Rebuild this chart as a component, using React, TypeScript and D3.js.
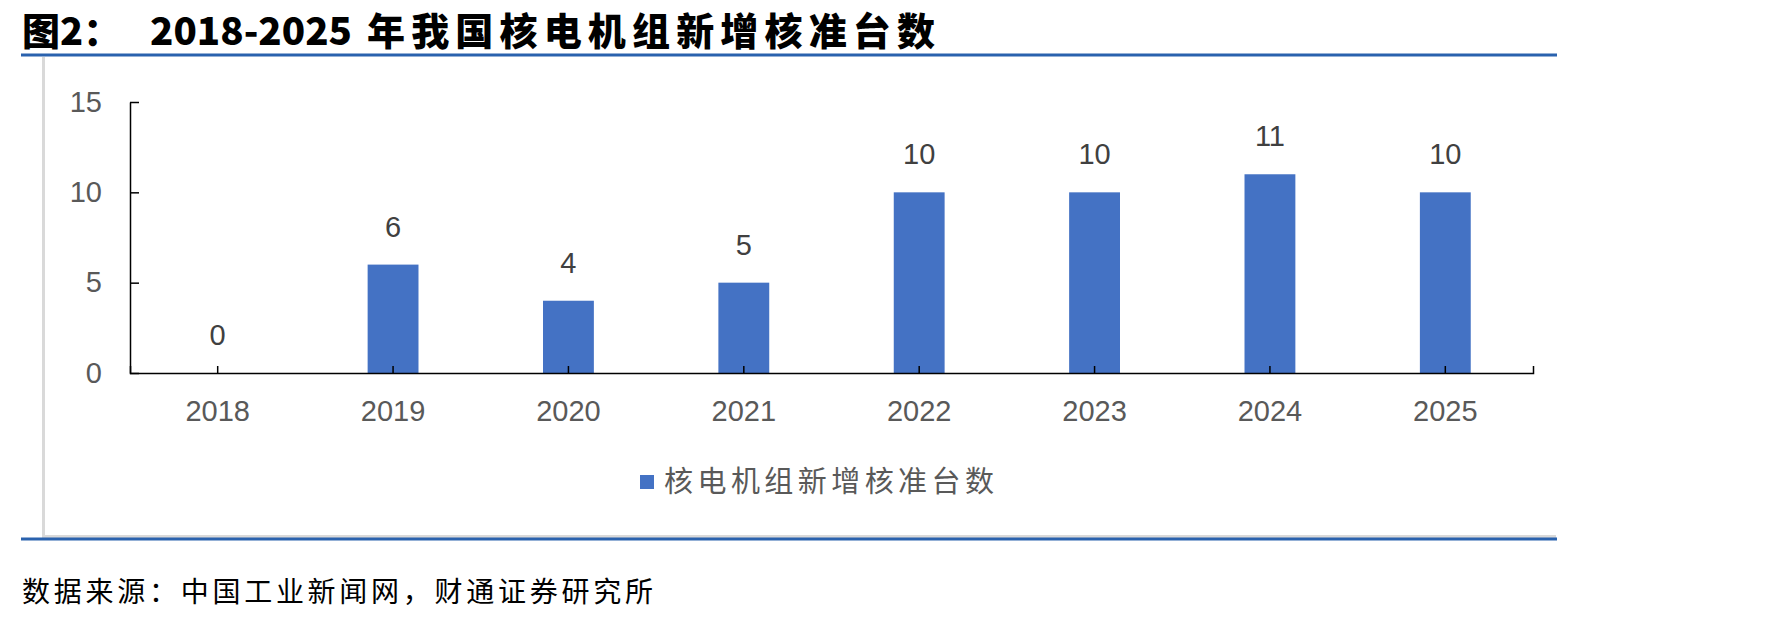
import { useEffect, useRef } from 'react'
import * as d3 from 'd3'

const years = ['2018', '2019', '2020', '2021', '2022', '2023', '2024', '2025']
const approvals = [0, 6, 4, 5, 10, 10, 11, 10]
const yTicks = [0, 5, 10, 15]
const seriesName = '核电机组新增核准台数'

const W = 1771
const H = 624
const numFont = '"Liberation Sans", Arial, sans-serif'
const cjkFont = '"Noto Sans CJK SC", sans-serif'

export default function App() {
  const ref = useRef<SVGSVGElement | null>(null)

  useEffect(() => {
    if (!ref.current) return
    const svg = d3.select(ref.current)
    svg.selectAll('*').remove()

    const plot = { left: 130, right: 1533, top: 102, bottom: 373 }

    const x = d3
      .scaleBand<string>()
      .domain(years)
      .range([plot.left, plot.right])
      .paddingInner(0.71)
      .paddingOuter(0.355)

    const xTick = d3.scaleBand<string>().domain(years).range([plot.left, plot.right])

    const y = d3.scaleLinear().domain([0, 15]).range([plot.bottom, plot.top])

    // frame
    svg.append('line')
      .attr('x1', 21).attr('x2', 1557).attr('y1', 55).attr('y2', 55)
      .attr('stroke', '#2a62ae').attr('stroke-width', 3)
    svg.append('path')
      .attr('d', 'M43.5,57V536.5H1556')
      .attr('fill', 'none').attr('stroke', '#d9d9d9').attr('stroke-width', 3)
    svg.append('line')
      .attr('x1', 21).attr('x2', 1557).attr('y1', 539).attr('y2', 539)
      .attr('stroke', '#2a62ae').attr('stroke-width', 3)

    // title
    const title = svg.append('g')
      .attr('font-family', cjkFont).attr('font-weight', 900).attr('font-size', 38)
      .attr('fill', '#000')
    title.append('text').attr('x', 22).attr('y', 45).text('图2：')
    title.append('text')
      .attr('x', 150).attr('y', 45)
      .attr('textLength', 202).attr('lengthAdjust', 'spacingAndGlyphs')
      .text('2018-2025')
    title.append('text')
      .attr('x', 367).attr('y', 45)
      .attr('textLength', 568).attr('lengthAdjust', 'spacing')
      .text('年我国核电机组新增核准台数')

    // bars
    svg.selectAll('.bar')
      .data(approvals)
      .enter()
      .append('rect')
      .attr('class', 'bar')
      .attr('x', (_, i) => x(years[i]) ?? 0)
      .attr('width', x.bandwidth())
      .attr('y', (d) => y(d))
      .attr('height', (d) => y(0) - y(d))
      .attr('fill', '#4472c4')

    // y axis
    const ya = svg.append('g')
      .attr('transform', `translate(${plot.left},0)`)
      .call(d3.axisLeft(y).tickValues(yTicks).tickSizeInner(-9).tickSizeOuter(0).tickPadding(28))
    ya.selectAll('path, line').attr('stroke', '#000').attr('stroke-width', 1.5)
    ya.selectAll('text')
      .attr('fill', '#595959').attr('font-size', 29).attr('font-family', numFont)

    // x axis
    const xa = svg.append('g')
      .attr('transform', `translate(0,${plot.bottom})`)
      .call(d3.axisBottom(xTick).tickSizeInner(-7).tickSizeOuter(-7).tickPadding(0))
    xa.selectAll('path, line').attr('stroke', '#000').attr('stroke-width', 1.5)
    xa.selectAll('text')
      .attr('fill', '#595959').attr('font-size', 29).attr('font-family', numFont)
      .attr('dy', null).attr('y', 48)

    // labels
    svg.selectAll('.lbl')
      .data(approvals)
      .enter()
      .append('text')
      .attr('class', 'lbl')
      .attr('x', (_, i) => (x(years[i]) ?? 0) + x.bandwidth() / 2)
      .attr('y', (d) => y(d) - 28)
      .attr('text-anchor', 'middle')
      .attr('fill', '#404040').attr('font-size', 29).attr('font-family', numFont)
      .text((d) => d)

    // legend
    svg.append('rect')
      .attr('x', 640).attr('y', 475).attr('width', 14).attr('height', 14)
      .attr('fill', '#4472c4')
    svg.append('text')
      .attr('x', 664).attr('y', 492)
      .attr('font-family', cjkFont).attr('font-size', 29).attr('fill', '#595959')
      .attr('textLength', 330).attr('lengthAdjust', 'spacing')
      .text(seriesName)

    // source
    svg.append('text')
      .attr('x', 22).attr('y', 602)
      .attr('font-family', cjkFont).attr('font-size', 28).attr('fill', '#000')
      .attr('textLength', 631).attr('lengthAdjust', 'spacing')
      .text('数据来源：中国工业新闻网，财通证券研究所')
  }, [])

  return (
    <svg
      ref={ref}
      width={W}
      height={H}
      viewBox={`0 0 ${W} ${H}`}
      style={{ position: 'absolute', left: 0, top: 0, background: '#fff' }}
    />
  )
}
